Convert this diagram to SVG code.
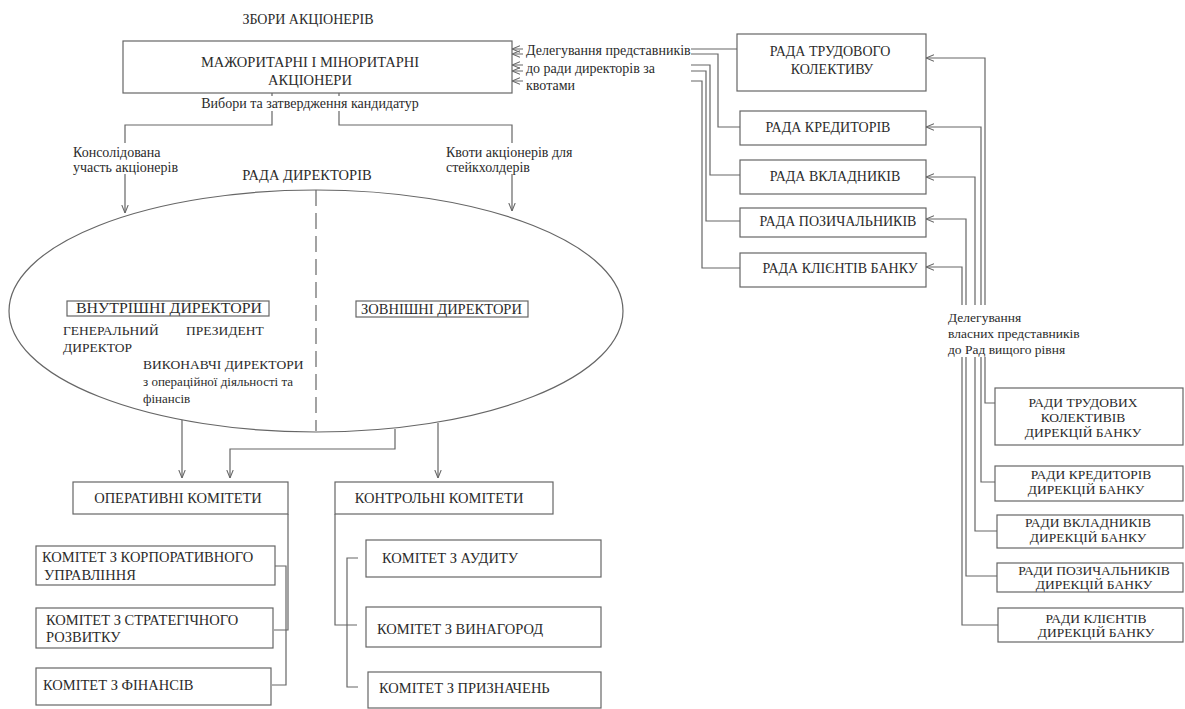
<svg xmlns="http://www.w3.org/2000/svg" width="1185" height="709" viewBox="0 0 1185 709" font-family="'Liberation Serif', 'DejaVu Serif', serif">
<style>
text{font-family:'Liberation Serif','Times New Roman','DejaVu Serif',serif;fill:#2b2b2b}
.t15{font-size:14.5px}.t14{font-size:14px}.t13{font-size:13.5px}.t12{font-size:13px}
.m{text-anchor:middle}
.box{fill:#fff;stroke:#666;stroke-width:1.2}
.ln{fill:none;stroke:#666;stroke-width:1.2}
.bg{fill:#fff;stroke:none}
.dash{fill:none;stroke:#666;stroke-width:1.2;stroke-dasharray:16 7}
</style>
<defs>
<marker id="ah" viewBox="0 0 10 10" refX="10" refY="5" markerWidth="8" markerHeight="8" markerUnits="userSpaceOnUse" orient="auto">
<path d="M0,1 L10,5 L0,9" fill="none" stroke="#666" stroke-width="1.3"/>
</marker>
</defs>
<rect width="1185" height="709" fill="#fff"/>

<g id="connectors">
<polyline class="ln" points="272,93 272,125 125,125 125,213" marker-end="url(#ah)"/>
<polyline class="ln" points="339,93 339,125 512,125 512,211" marker-end="url(#ah)"/>
<polyline class="ln" points="737,49 512,49" marker-end="url(#ah)"/>
<polyline class="ln" points="740,127 718,127 718,54 512,54" marker-end="url(#ah)"/>
<polyline class="ln" points="740,175 710,175 710,65 512,65" marker-end="url(#ah)"/>
<polyline class="ln" points="740,221 706,221 706,71 512,71" marker-end="url(#ah)"/>
<polyline class="ln" points="740,268 702,268 702,81 512,81" marker-end="url(#ah)"/>
<polyline class="ln" points="995,403 985,403 985,58 926,58" marker-end="url(#ah)"/>
<polyline class="ln" points="995,482 981,482 981,127 926,127" marker-end="url(#ah)"/>
<polyline class="ln" points="997,531 975,531 975,177 926,177" marker-end="url(#ah)"/>
<polyline class="ln" points="997,576 966,576 966,219 926,219" marker-end="url(#ah)"/>
<polyline class="ln" points="998,625 962,625 962,267 926,267" marker-end="url(#ah)"/>
<polyline class="ln" points="182,420 182,478" marker-end="url(#ah)"/>
<polyline class="ln" points="395,429 395,449 230,449 230,478" marker-end="url(#ah)"/>
<polyline class="ln" points="438,423 438,478" marker-end="url(#ah)"/>
<polyline class="ln" points="288,514 288,630 274,630"/>
<polyline class="ln" points="275,566 286,566 286,685 272,685"/>
<polyline class="ln" points="335,514 335,625 357,625"/>
<polyline class="ln" points="358,558 347,558 347,687 358,687"/>
</g>

<g id="labels">
<rect class="bg" x="523" y="42" width="168" height="50"/>
<text class="t14" x="526" y="55">Делегування представників</text>
<text class="t14" x="526" y="73">до ради директорів за</text>
<text class="t14" x="526" y="90">квотами</text>
<rect class="bg" x="200" y="96" width="220" height="15"/>
<text class="t14 m" x="310" y="108">Вибори та затвердження кандидатур</text>
<rect class="bg" x="71" y="143" width="118" height="31"/>
<text class="t14" x="73" y="157">Консолідована</text>
<text class="t14" x="73" y="172">участь акціонерів</text>
<rect class="bg" x="444" y="143" width="136" height="31"/>
<text class="t14" x="446" y="157">Квоти акціонерів для</text>
<text class="t14" x="446" y="172">стейкхолдерів</text>
<rect class="bg" x="945" y="305" width="143" height="52"/>
<text class="t13" x="948" y="322">Делегування</text>
<text class="t13" x="948" y="338">власних представників</text>
<text class="t13" x="948" y="354">до Рад вищого рівня</text>
</g>

<g id="title"><text class="t14 m" x="308" y="24">ЗБОРИ АКЦІОНЕРІВ</text></g>

<g id="shareholders">
<rect class="box" x="123" y="41" width="389" height="52"/>
<text class="t15 m" x="310" y="67">МАЖОРИТАРНІ І МІНОРИТАРНІ</text>
<text class="t15 m" x="310" y="85">АКЦІОНЕРИ</text>
</g>

<g id="board">
<text class="t15 m" x="307" y="180">РАДА ДИРЕКТОРІВ</text>
<ellipse class="ln" cx="316" cy="311" rx="307" ry="121"/>
<line class="dash" x1="316" y1="190" x2="316" y2="431"/>
</g>

<g id="inner-directors">
<rect class="box" x="67" y="301" width="202" height="15"/>
<text class="t15" x="76" y="313" textLength="186" lengthAdjust="spacingAndGlyphs">ВНУТРІШНІ ДИРЕКТОРИ</text>
<text class="t13" x="63" y="335">ГЕНЕРАЛЬНИЙ</text>
<text class="t13" x="186" y="335">ПРЕЗИДЕНТ</text>
<text class="t13" x="63" y="352">ДИРЕКТОР</text>
<text class="t13" x="143" y="369">ВИКОНАВЧІ ДИРЕКТОРИ</text>
<text class="t12" x="143" y="386">з операційної діяльності та</text>
<text class="t12" x="143" y="403">фінансів</text>
</g>

<g id="outer-directors">
<rect class="box" x="356" y="301" width="172" height="16"/>
<text class="t15" x="361" y="314">ЗОВНІШНІ ДИРЕКТОРИ</text>
</g>

<g id="operative">
<rect class="box" x="73" y="482" width="215" height="32"/>
<text class="t15 m" x="178" y="503">ОПЕРАТИВНІ КОМІТЕТИ</text>
</g>
<g id="control">
<rect class="box" x="335" y="482" width="218" height="32"/>
<text class="t15 m" x="439" y="503">КОНТРОЛЬНІ КОМІТЕТИ</text>
</g>

<g id="corp">
<rect class="box" x="36" y="546" width="239" height="39"/>
<text class="t15" x="42" y="562">КОМІТЕТ З КОРПОРАТИВНОГО</text>
<text class="t15" x="44" y="580">УПРАВЛІННЯ</text>
</g>
<g id="strat">
<rect class="box" x="36" y="608" width="237" height="40"/>
<text class="t15" x="46" y="625">КОМІТЕТ З СТРАТЕГІЧНОГО</text>
<text class="t15" x="46" y="642">РОЗВИТКУ</text>
</g>
<g id="fin">
<rect class="box" x="36" y="668" width="235" height="37"/>
<text class="t15" x="43" y="690">КОМІТЕТ З ФІНАНСІВ</text>
</g>

<g id="audit">
<rect class="box" x="366" y="540" width="235" height="37"/>
<text class="t15" x="382" y="563">КОМІТЕТ З АУДИТУ</text>
</g>
<g id="reward">
<rect class="box" x="366" y="607" width="235" height="40"/>
<text class="t15" x="377" y="634">КОМІТЕТ З ВИНАГОРОД</text>
</g>
<g id="appoint">
<rect class="box" x="368" y="672" width="233" height="36"/>
<text class="t15" x="379" y="693">КОМІТЕТ З ПРИЗНАЧЕНЬ</text>
</g>

<g id="council-labor">
<rect class="box" x="737" y="34" width="189" height="57"/>
<text class="t14 m" x="830" y="56">РАДА ТРУДОВОГО</text>
<text class="t14 m" x="832" y="74">КОЛЕКТИВУ</text>
</g>
<g id="council-creditors">
<rect class="box" x="740" y="111" width="186" height="34"/>
<text class="t14 m" x="828" y="132">РАДА КРЕДИТОРІВ</text>
</g>
<g id="council-depositors">
<rect class="box" x="740" y="160" width="186" height="34"/>
<text class="t14 m" x="835" y="181">РАДА ВКЛАДНИКІВ</text>
</g>
<g id="council-borrowers">
<rect class="box" x="740" y="208" width="186" height="29"/>
<text class="t14 m" x="838" y="226">РАДА ПОЗИЧАЛЬНИКІВ</text>
</g>
<g id="council-clients">
<rect class="box" x="740" y="253" width="186" height="34"/>
<text class="t14 m" x="840" y="273">РАДА КЛІЄНТІВ БАНКУ</text>
</g>

<g id="dir-labor">
<rect class="box" x="995" y="388" width="188" height="57"/>
<text class="t13 m" x="1083" y="407">РАДИ ТРУДОВИХ</text>
<text class="t13 m" x="1083" y="422">КОЛЕКТИВІВ</text>
<text class="t13 m" x="1083" y="437">ДИРЕКЦІЙ БАНКУ</text>
</g>
<g id="dir-creditors">
<rect class="box" x="995" y="466" width="188" height="35"/>
<text class="t13 m" x="1091" y="479">РАДИ КРЕДИТОРІВ</text>
<text class="t13 m" x="1086" y="494">ДИРЕКЦІЙ БАНКУ</text>
</g>
<g id="dir-depositors">
<rect class="box" x="997" y="515" width="186" height="33"/>
<text class="t13 m" x="1088" y="527">РАДИ ВКЛАДНИКІВ</text>
<text class="t13 m" x="1088" y="542">ДИРЕКЦІЙ БАНКУ</text>
</g>
<g id="dir-borrowers">
<rect class="box" x="997" y="563" width="186" height="29"/>
<text class="t13 m" x="1094" y="575">РАДИ ПОЗИЧАЛЬНИКІВ</text>
<text class="t13 m" x="1094" y="589">ДИРЕКЦІЙ БАНКУ</text>
</g>
<g id="dir-clients">
<rect class="box" x="998" y="608" width="185" height="34"/>
<text class="t13 m" x="1096" y="623">РАДИ КЛІЄНТІВ</text>
<text class="t13 m" x="1096" y="637">ДИРЕКЦІЙ БАНКУ</text>
</g>
</svg>
